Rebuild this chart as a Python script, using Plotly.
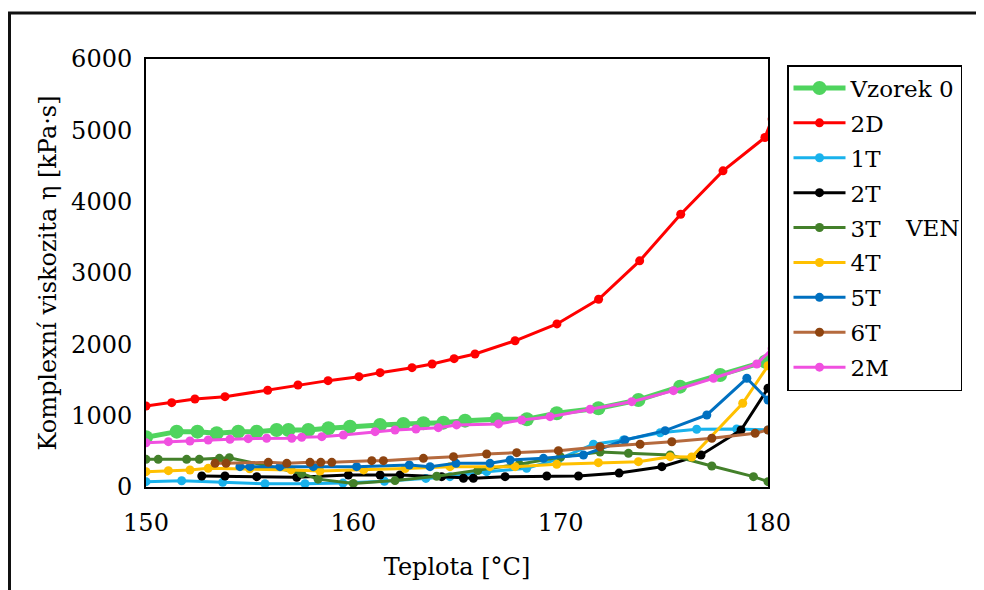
import plotly.graph_objects as go

# ---- data (Teplota [°C], Komplexní viskozita [kPa·s]) ----
v0_t = [150.0, 151.48, 152.48, 153.41, 154.45, 155.34, 156.30, 156.87, 157.83, 158.80, 159.84, 161.29,
        162.41, 163.38, 164.34, 165.39, 166.92, 168.37, 169.81, 171.82, 173.75, 175.76, 177.69, 179.86]
v0_v = [697, 776, 776, 753, 776, 776, 799, 799, 799, 823, 846, 870,
        884, 893, 902, 930, 949, 949, 1033, 1103, 1220, 1407, 1571, 1758]

d2_t = [150.0, 151.24, 152.36, 153.81, 155.87, 157.33, 158.78, 160.27, 161.29, 162.83, 163.80, 164.86,
        165.87, 167.80, 169.82, 171.83, 173.81, 175.79, 177.83, 179.85, 180.2]
d2_v = [1136, 1182, 1234, 1266, 1356, 1430, 1491, 1547, 1603, 1673, 1725, 1799,
        1865, 2050, 2286, 2632, 3170, 3824, 4432, 4899, 5160]

t1_t = [150.0, 151.72, 153.7, 155.74, 157.67, 159.5, 161.5, 163.5, 164.66, 166.43, 168.36, 169.9,
        171.58, 173.03, 174.8, 176.56, 178.49, 180.0]
t1_v = [75, 88, 65, 45, 45, 55, 80, 120, 145, 215, 262, 390,
        600, 659, 760, 809, 813, 800]

t2_t = [152.69, 153.81, 155.34, 157.27, 159.76, 161.29, 162.25, 164.26, 165.31, 165.79, 167.32, 169.33,
        170.86, 172.82, 174.88, 176.77, 178.70, 180.0]
t2_v = [154, 154, 145, 136, 168, 168, 168, 145, 122, 122, 145, 154,
        154, 195, 285, 449, 799, 1384]

t3_t = [150.0, 150.59, 151.96, 152.57, 153.54, 154.02, 157.5, 158.3, 160.0, 162.01, 164.02, 166.0,
        168.0, 170.0, 171.9, 173.27, 175.28, 177.29, 179.30, 180.0]
t3_v = [388, 388, 388, 388, 402, 411, 190, 110, 50, 90, 150, 230,
        320, 420, 490, 472, 449, 295, 145, 75]

t4_t = [150.0, 151.08, 152.12, 153.0, 155.0, 157.0, 158.39, 160.5, 162.5, 164.66, 166.59, 167.80,
        169.81, 171.82, 173.75, 175.28, 176.32, 178.78, 180.0]
t4_v = [215, 229, 238, 262, 255, 240, 225, 240, 260, 285, 285, 285,
        318, 341, 355, 425, 420, 1174, 1700]

t5_t = [154.53, 155.02, 156.46, 158.07, 160.16, 162.70, 163.70, 164.95, 166.59, 167.56, 169.17, 171.1,
        173.1, 175.04, 177.05, 178.98, 180.0]
t5_v = [285, 285, 285, 285, 285, 309, 285, 332, 332, 379, 402, 449,
        659, 790, 1010, 1524, 1220]

t6_t = [153.33, 153.86, 155.9, 156.79, 157.91, 158.43, 158.96, 160.89, 161.45, 163.38, 164.83, 166.43,
        167.88, 169.89, 171.9, 173.83, 175.36, 177.29, 179.38, 180.0]
t6_v = [332, 332, 346, 332, 346, 346, 346, 369, 369, 402, 425, 463,
        481, 509, 565, 599, 635, 683, 753, 799]

m2_t = [150.0, 151.08, 152.12, 153.0, 154.05, 154.93, 155.82, 157.03, 157.51, 158.48, 159.52, 161.05,
        162.01, 163.02, 164.10, 164.98, 167.0, 168.12, 169.49, 171.42, 173.43, 175.44, 177.37, 179.46, 180.2]
m2_v = [621, 636, 645, 659, 669, 678, 683, 683, 697, 706, 729, 776,
        799, 813, 832, 870, 884, 940, 986, 1090, 1196, 1351, 1524, 1725, 1940]

x_ticks = [150, 160, 170, 180]
y_ticks = [0, 1000, 2000, 3000, 4000, 5000, 6000]

series = [
    ("Vzorek 0", v0_t, v0_v, "#4fd45e", "#4fd45e", 5, 14),
    ("2D", d2_t, d2_v, "#ff0000", "#ff0000", 3, 9),
    ("1T", t1_t, t1_v, "#19b2ec", "#19b2ec", 3, 9),
    ("2T", t2_t, t2_v, "#000000", "#000000", 3, 9),
    ("3T", t3_t, t3_v, "#43802a", "#43802a", 3, 9),
    ("4T", t4_t, t4_v, "#ffc000", "#ffc000", 3, 9),
    ("5T", t5_t, t5_v, "#0070c0", "#0070c0", 3, 9),
    ("6T", t6_t, t6_v, "#b56a3e", "#8e4410", 3, 9),
    ("2M", m2_t, m2_v, "#f050e0", "#f050e0", 3, 9),
]

FONT = "DejaVu Serif"

fig = go.Figure()
for i, (name, xs, ys, lc, mc, lw, ms) in enumerate(series):
    fig.add_trace(go.Scatter(
        x=xs, y=ys, name=name, mode="lines+markers",
        line=dict(color=lc, width=lw),
        marker=dict(color=mc, size=ms),
        legendgroup=f"g{i}",
        cliponaxis=True,
    ))

# page body has an 8px margin; target pixel coords are shifted by it
OFF = 8
W, H = 984 - OFF, 590 - OFF
PL, PR, PT, PB = 146 - OFF, 768 - OFF, 59 - OFF, 487 - OFF

def px(x):
    return (x - OFF - PL) / (PR - PL)

def py(y):
    return (PB - (y - OFF)) / (PB - PT)

fig.update_layout(
    width=W, height=H,
    margin=dict(l=PL, r=W - PR, t=PT, b=H - PB),
    paper_bgcolor="white", plot_bgcolor="white",
    font=dict(family=FONT, color="#000000", size=24),
    showlegend=True,
    legend=dict(
        x=px(787), y=py(65), xanchor="left", yanchor="top",
        bordercolor="#000000", borderwidth=1.5, bgcolor="white",
        font=dict(family=FONT, size=23, color="#000000"),
        tracegroupgap=2, itemwidth=52,
    ),
    xaxis=dict(
        range=[150, 180], tickvals=x_ticks, ticktext=[str(v) for v in x_ticks],
        showgrid=False, zeroline=False, showline=True, linecolor="#000000", linewidth=2, mirror=True,
        ticks="outside", ticklen=13, tickcolor="rgba(0,0,0,0)",
        tickfont=dict(family=FONT, size=24),
        title=dict(text="Teplota [°C]", font=dict(family=FONT, size=24), standoff=22),
    ),
    yaxis=dict(
        range=[0, 6000], tickvals=y_ticks, ticktext=[str(v) for v in y_ticks],
        showgrid=False, zeroline=False, showline=True, linecolor="#000000", linewidth=2, mirror=True,
        ticks="outside", ticklen=7, tickcolor="rgba(0,0,0,0)",
        tickfont=dict(family=FONT, size=24),
        title=dict(text="Komplexní viskozita η [kPa·s]", font=dict(family=FONT, size=24), standoff=8),
    ),
    annotations=[dict(
        text="VEN", xref="paper", yref="paper", x=px(903), y=py(228),
        xanchor="left", yanchor="middle", showarrow=False,
        font=dict(family=FONT, size=23, color="#000000"),
    )],
    shapes=[dict(
        type="rect", xref="paper", yref="paper",
        x0=px(9.5), x1=px(1000), y0=py(620), y1=py(13),
        line=dict(color="#111111", width=3), fillcolor="rgba(0,0,0,0)", layer="below",
    )],
)

fig.write_html("out.html")
